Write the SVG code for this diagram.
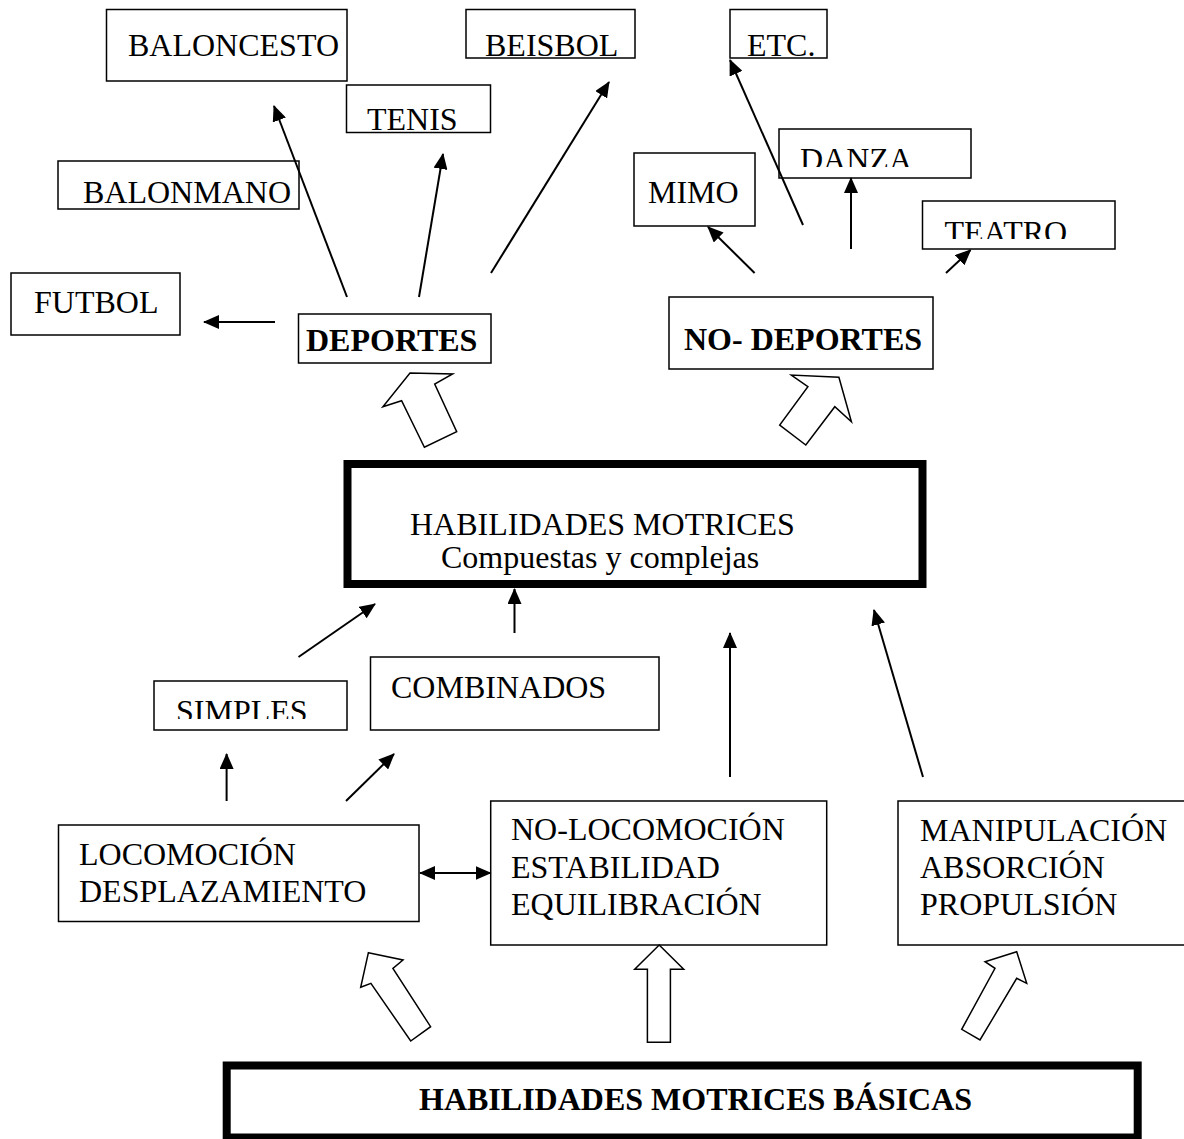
<svg xmlns="http://www.w3.org/2000/svg" width="1184" height="1139" viewBox="0 0 1184 1139">
<style>
.box{fill:none;stroke:#000;stroke-width:1.5}
.thick{fill:none;stroke:#000;stroke-width:8}
.t{font-family:"Liberation Serif","Times New Roman",serif;font-size:32px;fill:#000}
.b{font-weight:bold}
.c{fill:none;stroke:#000;stroke-width:2}
.ha{fill:#fff;stroke:#000;stroke-width:1.5;stroke-linejoin:miter}
</style>
<defs>
<marker id="ah" markerUnits="userSpaceOnUse" viewBox="0 0 16 14" refX="15" refY="7" markerWidth="16" markerHeight="14" orient="auto-start-reverse">
<path d="M0,0 L16,7 L0,14 z" fill="#000"/>
</marker>
<clipPath id="clipDanza"><rect x="779" y="129" width="192" height="38"/></clipPath>
<clipPath id="clipTeatro"><rect x="922" y="201" width="193" height="38"/></clipPath>
<clipPath id="clipSimples"><rect x="154" y="681" width="193" height="38"/></clipPath>
</defs>
<rect width="1184" height="1139" fill="#fff"/>

<g id="baloncesto"><rect class="box" x="106.5" y="9.5" width="240.5" height="71.5"/><text class="t" x="128" y="56">BALONCESTO</text></g>
<g id="tenis"><rect class="box" x="346.5" y="85" width="144" height="47.5"/><text class="t" x="367" y="130">TENIS</text></g>
<g id="beisbol"><rect class="box" x="466" y="9.5" width="169" height="48.5"/><text class="t" x="485" y="56">BEISBOL</text></g>
<g id="etc"><rect class="box" x="730" y="9.5" width="97" height="48.5"/><text class="t" x="747" y="56">ETC.</text></g>
<g id="balonmano"><rect class="box" x="58" y="161" width="241" height="48"/><text class="t" x="83" y="203">BALONMANO</text></g>
<g id="futbol"><rect class="box" x="11" y="273" width="169" height="62"/><text class="t" x="34" y="313">FUTBOL</text></g>
<g id="deportes"><rect class="box" x="298.5" y="314" width="192.5" height="49"/><text class="t b" x="306" y="351">DEPORTES</text></g>
<g id="mimo"><rect class="box" x="634" y="153" width="121" height="73"/><text class="t" x="648" y="203">MIMO</text></g>
<g id="danza"><rect class="box" x="779" y="129" width="192" height="49"/><text class="t" x="800" y="170" clip-path="url(#clipDanza)">DANZA</text></g>
<g id="teatro"><rect class="box" x="922.5" y="201" width="192.5" height="48"/><text class="t" x="944.5" y="243" clip-path="url(#clipTeatro)">TEATRO</text></g>
<g id="no-deportes"><rect class="box" x="669" y="297" width="264" height="72"/><text class="t b" x="684" y="350">NO- DEPORTES</text></g>

<g id="hm-compuestas"><rect class="thick" x="347.5" y="464" width="575" height="120"/><text class="t" x="410" y="535">HABILIDADES MOTRICES</text><text class="t" x="441" y="568">Compuestas y complejas</text></g>

<g id="simples"><rect class="box" x="154" y="681" width="193" height="49"/><text class="t" x="176" y="722" clip-path="url(#clipSimples)">SIMPLES</text></g>
<g id="combinados"><rect class="box" x="370.5" y="657" width="288.5" height="73"/><text class="t" x="391" y="698">COMBINADOS</text></g>

<g id="locomocion"><rect class="box" x="58.5" y="825" width="360.5" height="96.5"/><text class="t" x="79" y="865">LOCOMOCIÓN</text><text class="t" x="79" y="902">DESPLAZAMIENTO</text></g>
<g id="no-locomocion"><rect class="box" x="490.7" y="801" width="336" height="144"/><text class="t" x="511" y="840">NO-LOCOMOCIÓN</text><text class="t" x="511" y="877.5">ESTABILIDAD</text><text class="t" x="511" y="915">EQUILIBRACIÓN</text></g>
<g id="manipulacion"><rect class="box" x="898" y="801" width="300" height="144"/><text class="t" x="920" y="841">MANIPULACIÓN</text><text class="t" x="920" y="878">ABSORCIÓN</text><text class="t" x="920" y="915">PROPULSIÓN</text></g>

<g id="hm-basicas"><rect class="thick" x="226.7" y="1065.5" width="911" height="72"/><text class="t b" x="419" y="1110">HABILIDADES MOTRICES BÁSICAS</text></g>

<g id="connectors">
<line class="c" x1="275" y1="322" x2="204" y2="322" marker-end="url(#ah)"/>
<line class="c" x1="347" y1="297" x2="274" y2="106" marker-end="url(#ah)"/>
<line class="c" x1="419" y1="297" x2="443" y2="154" marker-end="url(#ah)"/>
<line class="c" x1="491" y1="273" x2="609" y2="82" marker-end="url(#ah)"/>
<line class="c" x1="803" y1="225" x2="730" y2="60" marker-end="url(#ah)"/>
<line class="c" x1="754.6" y1="273" x2="708" y2="227" marker-end="url(#ah)"/>
<line class="c" x1="851" y1="249" x2="851" y2="178" marker-end="url(#ah)"/>
<line class="c" x1="946" y1="273" x2="970.6" y2="250" marker-end="url(#ah)"/>
<line class="c" x1="298.5" y1="657" x2="375" y2="604" marker-end="url(#ah)"/>
<line class="c" x1="514.5" y1="633" x2="514.5" y2="589" marker-end="url(#ah)"/>
<line class="c" x1="730" y1="777" x2="730" y2="633" marker-end="url(#ah)"/>
<line class="c" x1="923" y1="777" x2="874" y2="610" marker-end="url(#ah)"/>
<line class="c" x1="226.6" y1="801" x2="226.6" y2="754" marker-end="url(#ah)"/>
<line class="c" x1="346" y1="801" x2="394" y2="754" marker-end="url(#ah)"/>
<line class="c" x1="420" y1="873" x2="490.5" y2="873" marker-start="url(#ah)" marker-end="url(#ah)"/>
<polygon class="ha" points="410,373 452.6,374 434.7,384 456.7,431.7 424.4,447.3 401.6,400.7 382.9,406.7"/>
<polygon class="ha" points="838.9,377.3 851.4,421.7 834.8,406.7 805.8,445 779.7,425 807.9,386.7 791.3,375"/>
<polygon class="ha" points="368.4,952.7 403,960 392.9,968.3 430.6,1026.7 410.7,1041 370.9,983.3 360.7,987.3"/>
<polygon class="ha" points="659.2,945 683.7,969.3 670.4,969.3 670.4,1042.3 647.4,1042.3 647.4,969.3 634.7,969.3"/>
<polygon class="ha" points="1016.7,951.7 1026.7,983.3 1016.7,978.3 980,1040 961.7,1029.3 995,968.3 985,961.7"/>
</g>
</svg>
